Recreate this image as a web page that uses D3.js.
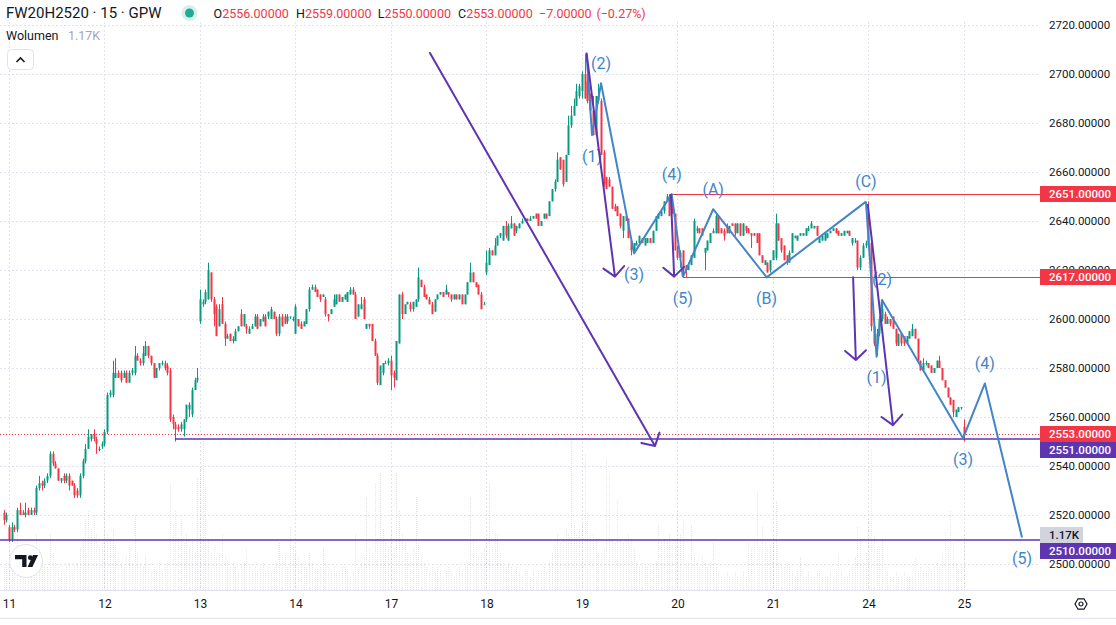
<!DOCTYPE html>
<html>
<head>
<meta charset="utf-8">
<script src="https://cdnjs.cloudflare.com/ajax/libs/d3/7.8.5/d3.min.js"></script>
<style>
  body { margin: 0; background: #ffffff; }
  svg { display: block; font-family: Roboto, "Noto Sans", sans-serif; }
</style>
</head>
<body>
<div class="chart_area"></div>
<script>
// ---- data (15 min candles, [open, high, low, close]) ----
var dayLabels = ["11", "12", "13", "14", "17", "18", "19", "20", "21", "24", "25"];

var candles10 = [[2521,2522,2516,2518],[2518,2521,2517,2520]];
var candles11 = [[2515,2516,2509,2510],[2510,2517,2509,2515],[2515,2516,2513,2514],[2514,2523,2513,2522],[2522,2525,2520,2520],
  [2521,2522,2520,2520],[2520,2525,2519,2521],[2522,2523,2520,2520],[2520,2523,2520,2522],[2522,2523,2520,2521],
  [2521,2532,2520,2531],[2531,2536,2530,2533],[2533,2534,2530,2532],[2532,2535,2531,2534],[2534,2537,2533,2536],
  [2536,2546,2535,2545],[2545,2546,2540,2541],[2541,2542,2539,2539],[2539,2539,2534,2534],[2534,2535,2533,2535],
  [2536,2537,2533,2534],[2534,2537,2533,2536],[2536,2537,2530,2532],[2534,2534,2532,2532],[2532,2533,2527,2528],
  [2530,2531,2527,2528],[2528,2537,2527,2536],[2536,2543,2535,2542],[2542,2549,2541,2547],[2547,2555,2547,2552],
  [2551,2553,2550,2553],[2553,2555,2550,2551],[2551,2552,2545,2549],[2547,2548,2546,2547],[2548,2550,2547,2549]];
var candles12 = [[2549,2555,2548,2554],[2554,2570,2553,2569],[2569,2571,2568,2570],[2569,2583,2568,2578],[2576,2584,2576,2578],
  [2578,2579,2576,2576],[2578,2579,2574,2575],[2576,2579,2576,2578],[2578,2579,2574,2574],[2574,2579,2574,2578],
  [2578,2580,2577,2579],[2578,2589,2577,2585],[2585,2586,2583,2583],[2583,2584,2581,2582],[2582,2589,2581,2586],
  [2585,2591,2585,2589],[2589,2589,2584,2585],[2585,2585,2581,2582],[2582,2582,2576,2576],[2576,2580,2576,2580],
  [2580,2582,2579,2582],[2582,2583,2581,2582],[2582,2583,2579,2580],[2581,2582,2577,2578],[2579,2580,2558,2559],
  [2560,2561,2555,2557],[2557,2558,2550,2555],[2556,2557,2554,2555],[2555,2558,2554,2557],[2555,2559,2552,2559],
  [2559,2565,2558,2565],[2563,2566,2560,2565],[2561,2572,2560,2571],[2571,2576,2571,2575],[2575,2580,2574,2576]];
var candles13 = [[2599,2612,2598,2608],[2606,2608,2605,2607],[2607,2612,2606,2611],[2608,2623,2608,2620],[2619,2619,2607,2608],
  [2608,2609,2597,2602],[2605,2606,2593,2593],[2597,2606,2597,2604],[2606,2609,2598,2598],[2598,2599,2589,2592],
  [2592,2594,2592,2593],[2594,2594,2591,2591],[2591,2593,2590,2592],[2591,2596,2591,2595],[2595,2597,2595,2597],
  [2602,2604,2597,2597],[2597,2602,2597,2602],[2597,2598,2594,2596],[2594,2597,2594,2596],[2596,2598,2596,2597],
  [2597,2602,2597,2601],[2601,2602,2596,2596],[2597,2600,2597,2600],[2599,2602,2599,2601],[2601,2602,2597,2597],
  [2601,2603,2600,2603],[2600,2605,2600,2604],[2603,2603,2600,2600],[2600,2601,2593,2594],[2594,2602,2593,2601],
  [2601,2602,2597,2597],[2601,2602,2598,2598],[2599,2602,2598,2601],[2601,2601,2600,2601],[2600,2601,2599,2600]];
var candles14 = [[2594,2606,2594,2605],[2600,2600,2597,2597],[2598,2599,2596,2596],[2597,2599,2597,2599],[2598,2604,2598,2604],
  [2604,2613,2603,2612],[2612,2614,2612,2613],[2613,2614,2611,2611],[2612,2612,2609,2609],[2610,2610,2607,2608],
  [2609,2610,2609,2610],[2608,2609,2601,2602],[2602,2602,2599,2601],[2602,2604,2602,2604],[2605,2610,2605,2608],
  [2606,2610,2606,2610],[2610,2610,2607,2607],[2607,2609,2607,2609],[2608,2610,2608,2610],[2607,2611,2607,2611],
  [2610,2613,2610,2612],[2612,2613,2610,2610],[2610,2611,2600,2600],[2601,2606,2601,2606],[2604,2609,2604,2606],
  [2608,2609,2600,2600],[2596,2598,2596,2598],[2598,2598,2596,2597],[2598,2598,2591,2591],[2591,2592,2585,2585],
  [2585,2586,2573,2574],[2573,2581,2573,2581],[2578,2582,2577,2582],[2582,2583,2582,2582],[2582,2584,2581,2583]];
var candles17 = [[2583,2585,2571,2577],[2578,2579,2572,2576],[2575,2591,2575,2591],[2590,2610,2590,2610],[2610,2611,2600,2602],
  [2602,2606,2602,2606],[2606,2607,2606,2607],[2606,2607,2603,2604],[2604,2607,2603,2607],[2605,2608,2605,2608],
  [2608,2621,2607,2617],[2616,2616,2613,2613],[2613,2614,2609,2609],[2610,2610,2608,2608],[2608,2609,2606,2606],
  [2606,2607,2602,2602],[2603,2608,2603,2608],[2608,2610,2608,2610],[2610,2611,2610,2611],[2611,2611,2609,2609],
  [2610,2614,2610,2612],[2611,2611,2609,2610],[2610,2610,2607,2608],[2608,2610,2608,2610],[2610,2610,2608,2608],
  [2608,2610,2608,2610],[2610,2610,2606,2606],[2606,2610,2606,2610],[2610,2615,2610,2615],[2615,2623,2615,2619],
  [2619,2619,2615,2615],[2615,2615,2613,2613],[2614,2614,2610,2610],[2610,2611,2604,2604],[2606,2607,2606,2606]];
var candles18 = [[2619,2628,2618,2623],[2622,2629,2622,2628],[2628,2628,2626,2626],[2626,2633,2626,2630],[2630,2634,2630,2634],
  [2634,2635,2633,2635],[2632,2638,2632,2638],[2638,2640,2633,2634],[2632,2639,2632,2638],[2637,2642,2637,2639],
  [2639,2639,2634,2634],[2636,2638,2635,2638],[2637,2639,2637,2639],[2639,2641,2639,2640],[2640,2641,2640,2641],
  [2641,2641,2640,2640],[2640,2642,2640,2641],[2641,2642,2641,2642],[2643,2643,2641,2641],[2643,2643,2638,2638],
  [2638,2640,2638,2640],[2641,2643,2641,2643],[2643,2643,2641,2641],[2642,2648,2642,2648],[2648,2653,2648,2653],
  [2653,2657,2652,2656],[2656,2668,2656,2665],[2666,2666,2661,2661],[2665,2665,2654,2655],[2656,2667,2656,2667],
  [2667,2683,2667,2679],[2679,2687,2678,2683],[2683,2690,2683,2687],[2687,2696,2687,2693],[2691,2696,2690,2695]];
var candles19 = [[2693,2701,2690,2700],[2700,2708,2690,2690],[2697,2699,2688,2689],[2691,2692,2684,2685],[2685,2691,2675,2675],
  [2675,2691,2675,2691],[2689,2696,2688,2691],[2689,2690,2667,2667],[2668,2669,2654,2655],[2658,2658,2653,2653],
  [2657,2658,2654,2654],[2654,2654,2645,2645],[2646,2647,2644,2644],[2646,2646,2642,2642],[2643,2643,2637,2638],
  [2636,2642,2633,2642],[2642,2642,2640,2640],[2641,2641,2633,2633],[2632,2632,2626,2628],[2628,2631,2628,2631],
  [2630,2632,2630,2631],[2631,2634,2631,2634],[2633,2633,2631,2631],[2630,2633,2630,2633],[2631,2633,2631,2633],
  [2633,2633,2631,2631],[2631,2636,2631,2636],[2636,2642,2636,2642],[2641,2643,2641,2643],[2642,2644,2642,2644],
  [2644,2648,2643,2648],[2648,2651,2648,2650],[2650,2651,2642,2642],[2645,2647,2643,2643],[2643,2643,2628,2628]];
var candles20 = [[2628,2630,2624,2625],[2625,2628,2621,2627],[2628,2628,2617,2620],[2622,2622,2617,2620],[2620,2623,2620,2622],
  [2622,2626,2622,2626],[2625,2641,2625,2640],[2636,2638,2635,2637],[2637,2637,2635,2635],[2637,2637,2634,2634],
  [2627,2629,2620,2629],[2628,2632,2628,2632],[2631,2635,2631,2635],[2635,2637,2635,2636],[2635,2643,2635,2642],
  [2642,2642,2635,2635],[2637,2637,2635,2635],[2636,2637,2632,2634],[2638,2639,2635,2635],[2635,2638,2635,2638],
  [2639,2639,2638,2638],[2639,2639,2634,2635],[2635,2639,2635,2639],[2639,2639,2634,2634],[2634,2639,2634,2639],
  [2638,2638,2635,2636],[2637,2637,2635,2635],[2635,2635,2629,2634],[2635,2635,2634,2634],[2635,2635,2631,2631],
  [2635,2635,2626,2626],[2626,2626,2623,2623],[2622,2624,2622,2624],[2623,2623,2619,2619],[2620,2624,2619,2624]];
var candles21 = [[2624,2628,2624,2628],[2625,2643,2624,2639],[2639,2639,2632,2632],[2633,2633,2627,2628],[2630,2630,2624,2624],
  [2626,2626,2622,2623],[2623,2628,2623,2627],[2627,2635,2627,2635],[2633,2634,2633,2634],[2632,2634,2632,2634],
  [2634,2635,2634,2635],[2634,2635,2634,2635],[2634,2637,2634,2637],[2636,2638,2636,2637],[2637,2640,2637,2639],
  [2637,2638,2637,2638],[2638,2638,2634,2634],[2631,2633,2631,2633],[2632,2634,2632,2634],[2632,2635,2632,2635],
  [2633,2635,2633,2635],[2635,2636,2635,2636],[2636,2637,2636,2637],[2637,2637,2635,2635],[2636,2636,2634,2634],
  [2634,2635,2634,2635],[2634,2636,2634,2636],[2635,2636,2635,2636],[2636,2636,2634,2634],[2631,2633,2630,2633],
  [2632,2633,2631,2632],[2632,2632,2620,2621],[2621,2626,2620,2625],[2625,2631,2625,2630],[2630,2632,2629,2631]];
var candles24 = [[2643,2648,2630,2631],[2631,2632,2595,2597],[2597,2600,2589,2590],[2590,2596,2585,2594],[2594,2601,2593,2600],
  [2600,2608,2599,2604],[2602,2603,2598,2598],[2598,2601,2598,2600],[2600,2600,2597,2598],[2601,2601,2596,2596],
  [2596,2596,2589,2590],[2589,2594,2589,2594],[2594,2594,2589,2590],[2593,2593,2589,2590],[2590,2593,2590,2593],
  [2592,2595,2592,2595],[2593,2598,2593,2596],[2596,2596,2592,2592],[2592,2592,2583,2583],[2583,2583,2579,2579],
  [2579,2584,2579,2582],[2582,2583,2581,2582],[2582,2582,2580,2580],[2581,2581,2578,2578],[2578,2580,2578,2580],
  [2580,2583,2580,2583],[2583,2585,2580,2580],[2580,2580,2575,2575],[2575,2575,2572,2572],[2572,2572,2568,2568],
  [2568,2568,2565,2565],[2567,2567,2560,2562],[2560,2563,2560,2563],[2562,2564,2562,2564],[2564,2564,2563,2564]];
var candles25 = [[2556,2559,2550,2553]];

// volume, thousands of contracts
var volume10 = [0.5,0.6];
var volume11 = [0.9,0.7,0.5,1.2,0.6,0.5,0.4,0.6,0.5,0.4,1.2,0.9,0.6,0.5,0.5,1.2,0.8,0.6,0.5,0.4,0.4,0.5,0.6,0.4,0.5,0.6,0.9,1.1,1.5,1.7,1.3,1.6,1.2,0.9,1.0];
var volume12 = [2.5,1.2,1.1,1.3,0.9,0.8,0.6,0.5,0.7,0.9,0.6,1.6,0.8,0.6,0.5,0.7,0.5,0.4,0.5,0.4,0.6,0.4,0.5,0.6,2.3,1.4,1.7,1.1,1.5,1.0,1.2,0.9,1.1,0.8,2.4];
var volume13 = [2.6,3.2,2.2,1.1,0.8,0.9,0.7,0.8,1.2,0.7,0.6,0.5,0.6,0.5,0.4,0.5,0.6,0.9,0.5,0.4,0.5,0.4,0.5,0.6,0.4,0.5,0.4,0.5,0.6,1.0,0.7,0.8,0.5,1.35,0.9];
var volume14 = [0.8,0.7,0.6,0.5,0.5,0.8,0.6,0.5,0.4,0.5,0.9,0.6,0.5,0.4,0.5,0.4,0.4,0.5,0.5,0.4,0.3,0.4,1.2,0.5,0.6,0.7,2.0,0.9,0.8,2.3,1.1,2.5,1.3,1.0,0.9];
var volume17 = [1.3,0.9,2.5,1.7,1.2,1.0,0.8,0.7,0.9,2.0,1.0,0.7,0.6,0.5,0.4,0.5,0.4,0.5,0.4,0.3,0.4,0.5,0.4,0.3,0.4,0.5,0.4,0.5,0.6,2.0,1.1,0.9,0.7,0.8,0.9];
var volume18 = [1.0,2.3,0.9,1.2,1.2,0.8,0.6,0.5,0.6,0.5,0.4,0.5,0.4,0.3,0.4,0.4,0.3,0.4,0.3,0.4,0.4,0.5,0.4,0.6,0.8,0.9,1.2,1.0,1.1,1.3,1.2,3.2,1.4,1.2,1.3];
var volume19 = [1.4,2.9,1.65,1.2,1.2,1.1,0.8,0.8,0.9,2.8,2.55,1.1,1.0,1.9,1.1,1.0,1.1,1.2,1.1,0.9,0.6,0.5,0.6,0.5,0.5,0.6,0.5,0.6,1.4,1.0,1.1,1.0,1.2,1.0,1.1];
var volume20 = [1.7,1.2,1.5,0.6,0.6,1.4,0.7,0.6,0.5,0.7,0.6,0.5,0.6,1.0,0.5,0.4,0.3,0.3,0.4,0.3,0.3,0.4,0.3,0.3,0.4,0.3,1.0,0.9,1.0,2.1,0.9,1.35,1.0,0.9,0.95];
var volume21 = [1.0,1.9,0.6,0.55,0.5,0.6,0.5,0.4,0.3,0.4,0.7,0.3,0.3,0.4,0.3,0.3,0.4,0.4,0.3,0.3,0.3,0.4,0.3,0.4,0.8,0.4,0.3,0.3,0.4,0.5,0.7,1.35,1.1,0.6,0.8];
var volume24 = [1.5,3.0,1.15,0.9,0.9,1.1,0.5,0.4,0.3,0.3,0.4,0.3,0.3,0.4,0.3,0.3,0.3,0.7,0.4,0.5,0.4,0.4,0.5,0.4,0.5,0.6,0.5,0.8,1.2,0.9,1.7,1.0,0.6,0.45,0.5];
var volume25 = [1.17];

var priceTicks = [2500, 2520, 2540, 2560, 2580, 2600, 2620, 2640, 2660, 2680, 2700, 2720];

// drawings, [candle index, price]
var impulseOne = [[213.7,2708.4],[215.7,2675.1],[219,2696.2],[231.1,2626.8],[244.9,2651],[249,2617.1]];
var correction = [[249,2617.1],[260.1,2644.8],[279.7,2617],[316.1,2647.9]];
var impulseTwo = [[316.1,2647.9],[320,2584.6],[322,2607.8],[351.7,2551.3],[359.7,2573.7],[373.3,2510.8]];
var impulseLabels = ["", "(1)", "(2)", "(3)", "(4)", "(5)"];
var correctionLabels = ["", "(A)", "(B)", "(C)"];

var arrowStarts = [[156.3,2708.6],[213.7,2708.4],[244.6,2650.6],[311.4,2617],[316.8,2646.5]];
var arrowEnds = [[238.8,2548.2],[224.1,2617.3],[245.8,2617.3],[312.4,2583.3],[326,2556.7]];

var redLevels = [2651, 2617];
var redLevelStarts = [244.9, 249];
var purpleLevels = [2551, 2510];
var purpleLevelStarts = [62.8, -1.3];
var lastPrice = 2553;
var lastVolume = 1.17;

var ohlcNames = ["O", "H", "L", "C"];
var ohlcValues = ["2556.00000", "2559.00000", "2550.00000", "2553.00000"];
var changeText = ["\u22127.00000", "(\u22120.27%)"];

// ---- layout ----
var width = 1116, height = 625;
var plotRight = 1040, paneBottom = 590;
var red = "#f23645", green = "#089981", purple = "#5e35b1", blue = "#4285c8", textColor = "#131722";

var sessions = [candles10, candles11, candles12, candles13, candles14, candles17, candles18, candles19, candles20, candles21, candles24, candles25];
var volumeSessions = [volume10, volume11, volume12, volume13, volume14, volume17, volume18, volume19, volume20, volume21, volume24, volume25];

var candles = [], dayStarts = [];
sessions.forEach(function (s, k) {
  if (k > 0) dayStarts.push(candles.length);
  s.forEach(function (c, j) {
    candles.push({ i: candles.length, o: c[0], h: c[1], l: c[2], c: c[3], v: volumeSessions[k][j] });
  });
});

var svg = d3.select(".chart_area").append("svg")
  .attr("width", width)
  .attr("height", height);

var x = d3.scaleLinear().domain([-1.3, 379.9]).range([0, plotRight]);
var y = d3.scaleLinear().domain([2500, 2720]).range([564, 25]);
var yVol = d3.scaleLinear().domain([0, lastVolume]).range([paneBottom, 535]);

function px(v) { return Math.round(v) + 0.5; }

svg.append("defs").append("clipPath").attr("id", "plotClip")
  .append("rect").attr("x", 0).attr("y", 0).attr("width", plotRight).attr("height", paneBottom);

// grid
var grid = svg.append("g").attr("class", "grid");
grid.selectAll(".hgrid").data(priceTicks).enter().append("line")
  .attr("x1", 0).attr("x2", plotRight)
  .attr("y1", function (d) { return px(y(d)); })
  .attr("y2", function (d) { return px(y(d)); })
  .style("stroke", "#e0e3eb").style("stroke-dasharray", "2,2");
grid.selectAll(".vgrid").data(dayStarts).enter().append("line")
  .attr("x1", function (d) { return px(x(d)); })
  .attr("x2", function (d) { return px(x(d)); })
  .attr("y1", 22).attr("y2", paneBottom)
  .style("stroke", "#e0e3eb").style("stroke-dasharray", "2,2");

var plot = svg.append("g").attr("clip-path", "url(#plotClip)");

// volume
plot.append("g").selectAll("line").data(candles).enter().append("line")
  .attr("x1", function (d) { return px(x(d.i)); })
  .attr("x2", function (d) { return px(x(d.i)); })
  .attr("y1", paneBottom)
  .attr("y2", function (d) { return yVol(d.v); })
  .style("stroke", function (d) { return d.c >= d.o ? "#7fa7c9" : "#d79aa8"; })
  .style("stroke-opacity", 0.28)
  .style("stroke-dasharray", "1,1");

// candles
var candle = plot.append("g").selectAll("g").data(candles).enter().append("g");
candle.append("line")
  .attr("x1", function (d) { return px(x(d.i)); })
  .attr("x2", function (d) { return px(x(d.i)); })
  .attr("y1", function (d) { return y(d.h); })
  .attr("y2", function (d) { return y(d.l); })
  .style("stroke", function (d) { return d.c >= d.o ? green : red; });
candle.append("rect")
  .attr("x", function (d) { return Math.round(x(d.i)) - 0.5; })
  .attr("width", 2)
  .attr("y", function (d) { return y(Math.max(d.o, d.c)); })
  .attr("height", function (d) { return Math.max(1, Math.abs(y(d.o) - y(d.c))); })
  .style("fill", function (d) { return d.c >= d.o ? green : red; });

// horizontal levels
plot.selectAll(".redLevel").data(redLevels).enter().append("line")
  .attr("x1", function (d, i) { return x(redLevelStarts[i]); }).attr("x2", plotRight)
  .attr("y1", function (d) { return px(y(d)); }).attr("y2", function (d) { return px(y(d)); })
  .style("stroke", red);
plot.selectAll(".purpleLevel").data(purpleLevels).enter().append("line")
  .attr("x1", function (d, i) { return x(purpleLevelStarts[i]); }).attr("x2", plotRight)
  .attr("y1", function (d) { return Math.round(y(d)); }).attr("y2", function (d) { return Math.round(y(d)); })
  .style("stroke", purple).style("stroke-width", 1.5);
plot.append("line")
  .attr("x1", 0).attr("x2", plotRight)
  .attr("y1", px(y(lastPrice))).attr("y2", px(y(lastPrice)))
  .style("stroke", red).style("stroke-dasharray", "1,2");

// elliott waves
var waveLine = d3.line().x(function (d) { return x(d[0]); }).y(function (d) { return y(d[1]); });
[[impulseOne, impulseLabels], [correction, correctionLabels], [impulseTwo, impulseLabels]].forEach(function (w) {
  var pts = w[0], labels = w[1];
  svg.append("path").datum(pts).attr("d", waveLine)
    .style("fill", "none").style("stroke", blue).style("stroke-width", 2).style("stroke-linejoin", "round");
  svg.selectAll(null).data(pts.slice(1)).enter().append("text")
    .attr("x", function (d) { return x(d[0]); })
    .attr("y", function (d, i) { var up = d[1] > pts[i][1]; return y(d[1]) + (up ? -20 : 21); })
    .attr("text-anchor", "middle").attr("dominant-baseline", "central")
    .style("font-size", "16px").style("fill", blue)
    .text(function (d, i) { return labels[i + 1]; });
});

// arrows
var arrows = svg.append("g");
arrowStarts.forEach(function (s, k) {
  var x0 = x(s[0]), y0 = y(s[1]), x1 = x(arrowEnds[k][0]), y1 = y(arrowEnds[k][1]);
  var a = Math.atan2(y1 - y0, x1 - x0), len = 14, spread = 0.84;
  var path = d3.path();
  path.moveTo(x0, y0); path.lineTo(x1, y1);
  path.moveTo(x1 - len * Math.cos(a - spread), y1 - len * Math.sin(a - spread));
  path.lineTo(x1, y1);
  path.lineTo(x1 - len * Math.cos(a + spread), y1 - len * Math.sin(a + spread));
  arrows.append("path").attr("d", path.toString())
    .style("fill", "none").style("stroke", purple).style("stroke-width", 2)
    .style("stroke-linecap", "round").style("stroke-linejoin", "round");
});

// pane borders
svg.append("line").attr("x1", 0).attr("x2", width).attr("y1", paneBottom + 0.5).attr("y2", paneBottom + 0.5).style("stroke", "#e0e3eb");
svg.append("line").attr("x1", 0).attr("x2", width).attr("y1", 618.5).attr("y2", 618.5).style("stroke", "#e0e3eb");

// price axis
var yAxis = svg.append("g")
  .attr("transform", "translate(1049,0)")
  .call(d3.axisRight(y).tickValues(priceTicks).tickFormat(function (d) { return d.toFixed(5); }).tickSize(0).tickPadding(0));
yAxis.select(".domain").remove();
yAxis.selectAll("text").style("font-size", "11.5px").style("fill", textColor).style("font-family", "Roboto, sans-serif");

// time axis
var xAxis = svg.append("g")
  .attr("transform", "translate(0,599)")
  .call(d3.axisBottom(x).tickValues(dayStarts).tickFormat(function (d, i) { return dayLabels[i]; }).tickSize(0).tickPadding(0));
xAxis.select(".domain").remove();
xAxis.selectAll("text").style("font-size", "12px").style("fill", textColor).style("font-family", "Roboto, sans-serif");

// price / volume labels on the scale
var tags = [
  { y: y(redLevels[0]), text: redLevels[0].toFixed(5), fill: red, w: 76, color: "#fff" },
  { y: y(redLevels[1]), text: redLevels[1].toFixed(5), fill: red, w: 76, color: "#fff" },
  { y: y(lastPrice), text: lastPrice.toFixed(5), fill: red, w: 76, color: "#fff" },
  { y: y(purpleLevels[0]), text: purpleLevels[0].toFixed(5), fill: purple, w: 76, color: "#fff" },
  { y: yVol(lastVolume), text: lastVolume.toFixed(2) + "K", fill: "#d1d4dc", w: 43, color: textColor },
  { y: y(purpleLevels[1]), text: purpleLevels[1].toFixed(5), fill: purple, w: 76, color: "#fff" }
];
for (var t = 1; t < tags.length; t++) {
  if (tags[t].y < tags[t - 1].y + 16) tags[t].y = tags[t - 1].y + 16;
}
var tag = svg.append("g").selectAll("g").data(tags).enter().append("g");
tag.append("rect")
  .attr("x", plotRight).attr("y", function (d) { return Math.round(d.y) - 8; })
  .attr("width", function (d) { return d.w; }).attr("height", 16)
  .style("fill", function (d) { return d.fill; });
tag.append("text")
  .attr("x", 1049).attr("y", function (d) { return Math.round(d.y); })
  .attr("dominant-baseline", "central")
  .style("font-size", "11.5px").style("font-weight", 500)
  .style("fill", function (d) { return d.color; })
  .text(function (d) { return d.text; });

// legend
svg.append("text").attr("x", 6).attr("y", 18).style("font-size", "15px").style("fill", textColor)
  .text("FW20H2520 \u00b7 15 \u00b7 GPW");
svg.append("circle").attr("cx", 189.5).attr("cy", 13).attr("r", 8).style("fill", "#22ab94").style("fill-opacity", 0.18);
svg.append("circle").attr("cx", 189.5).attr("cy", 13).attr("r", 4.5).style("fill", "#22ab94");
var ohlcX = [213.6, 296, 377.7, 458];
ohlcNames.forEach(function (n, k) {
  var txt = svg.append("text").attr("x", ohlcX[k]).attr("y", 17.5).style("font-size", "12.5px");
  txt.append("tspan").style("fill", textColor).text(n);
  txt.append("tspan").style("fill", red).text(ohlcValues[k]);
});
svg.append("text").attr("x", 539).attr("y", 17.5).style("font-size", "12.5px").style("fill", red).text(changeText[0]);
svg.append("text").attr("x", 596.4).attr("y", 17.5).style("font-size", "12.5px").style("fill", red).text(changeText[1]);

svg.append("text").attr("x", 6).attr("y", 39.5).style("font-size", "12.5px").style("fill", textColor).text("Wolumen");
svg.append("text").attr("x", 68).attr("y", 39.5).style("font-size", "12.5px").style("fill", "#a3a6af").text(lastVolume.toFixed(2) + "K");

svg.append("rect").attr("x", 7.5).attr("y", 49.5).attr("width", 26).attr("height", 20).attr("rx", 4)
  .style("fill", "#fff").style("stroke", "#e0e3eb");
svg.append("path").attr("d", "M16.5,62 L20.5,58 L24.5,62")
  .style("fill", "none").style("stroke", textColor).style("stroke-width", 1.6);

// logo
var logo = svg.append("g").attr("transform", "translate(26,561)");
logo.append("circle").attr("r", 16.5).style("fill", "#fff").style("stroke", "#e0e3eb");
logo.append("path").attr("d", "M-11,-6 H0.5 V6 H-3.8 V-1.8 H-11 Z").style("fill", textColor);
logo.append("circle").attr("cx", 4.3).attr("cy", -3.3).attr("r", 2.4).style("fill", textColor);
logo.append("path").attr("d", "M7,-6 H12 L6.4,6 H1.6 Z").style("fill", textColor);

// settings icon
var gear = svg.append("g").attr("transform", "translate(1081,604)");
gear.append("path").attr("d", d3.range(6).map(function (k) {
  var a = Math.PI / 3 * k;
  return (k ? "L" : "M") + (6 * Math.cos(a)).toFixed(2) + "," + (6 * Math.sin(a)).toFixed(2);
}).join("") + "Z").style("fill", "none").style("stroke", textColor).style("stroke-width", 1.2);
gear.append("circle").attr("r", 2).style("fill", "none").style("stroke", textColor).style("stroke-width", 1.2);
</script>
</body>
</html>
